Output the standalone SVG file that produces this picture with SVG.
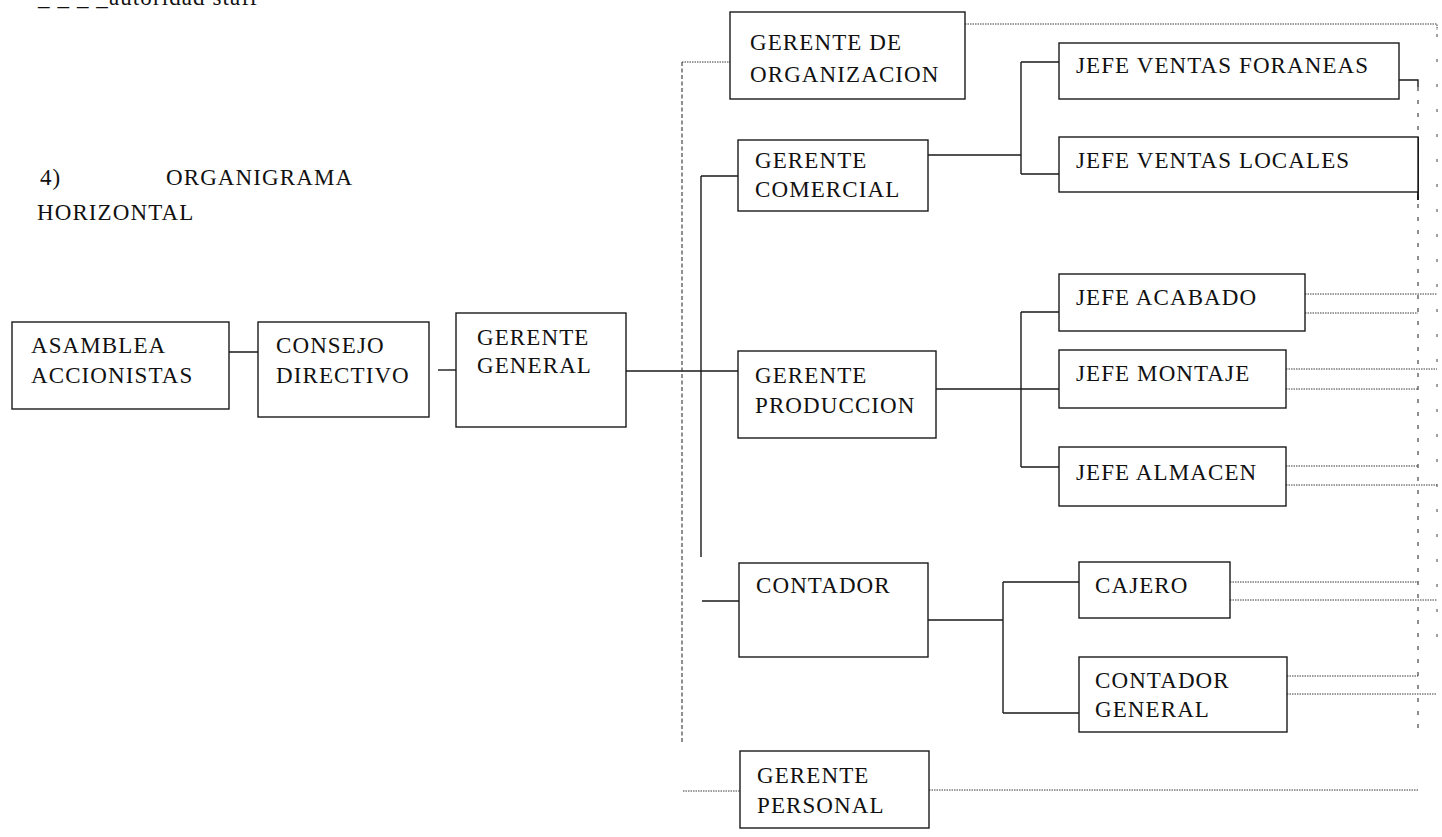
<svg xmlns="http://www.w3.org/2000/svg" width="1442" height="837" viewBox="0 0 1442 837">
  <style>
    text { font-family: "Liberation Serif", "Times New Roman", serif; font-size: 23px; letter-spacing: 1.1px; fill: #111111; }
    .box { fill: #ffffff; stroke: #1a1a1a; stroke-width: 1.4; }
    .line { fill: none; stroke: #1a1a1a; stroke-width: 1.4; }
    .staff { fill: none; stroke: #3a3a3a; stroke-width: 1; stroke-dasharray: 1.5 1; }
    .staff-v { fill: none; stroke: #333333; stroke-width: 1.1; stroke-dasharray: 4 2.5; }
    .staff-r { fill: none; stroke: #333333; stroke-width: 1.1; stroke-dasharray: 4 9; }
    .staff-far { fill: none; stroke: #444444; stroke-width: 1; stroke-dasharray: 3 22; }
  </style>

  <rect width="1442" height="837" fill="#ffffff"/>

  <!-- legend and title -->
  <g id="legend">
    <text x="38" y="5">_ _ _ _autoridad staff</text>
  </g>
  <g id="title">
    <text x="40" y="185">4)</text>
    <text x="166" y="185">ORGANIGRAMA</text>
    <text x="37" y="220">HORIZONTAL</text>
  </g>

  <!-- connectors -->
  <g id="connectors">
    <!-- line authority -->
    <path class="line" d="M229 352 H267"/>
    <path class="line" d="M438 370 H456"/>
    <path class="line" d="M626 371 H738"/>
    <path class="line" d="M701 176 V557 M701 176 H738"/>
    <path class="line" d="M702 601 H739"/>
    <path class="line" d="M928 155 H1021 M1021 62 V174 M1021 62 H1059 M1021 174 H1059"/>
    <path class="line" d="M928 389 H1059 M1021 312 V467 M1021 312 H1059 M1021 467 H1059"/>
    <path class="line" d="M928 620 H1003 M1003 582 V713 M1003 582 H1079 M1003 713 H1079"/>
    <path class="line" d="M1399 80 H1418 V87"/>
    <path class="line" d="M1418 137 V200" style="stroke-width:2"/>

    <!-- staff authority -->
    <path class="staff" d="M682 62 H730"/>
    <path class="staff-v" d="M682 62 V743"/>
    <path class="staff" d="M965 24 H1437 V30"/>
    <path class="staff" d="M1305 294 H1437 M1305 313 H1418"/>
    <path class="staff" d="M1286 369 H1437 M1286 389 H1418"/>
    <path class="staff" d="M1286 466 H1418 M1286 485 H1437"/>
    <path class="staff" d="M1230 582 H1418 M1230 600 H1437"/>
    <path class="staff" d="M1287 676 H1418 M1287 694 H1437"/>
    <path class="staff" d="M683 791 H740 M929 790 H1419"/>
    <path class="staff-r" d="M1418 87 V737"/>
    <path class="staff-far" d="M1437 34 V648"/>
  </g>

  <!-- nodes -->
  <g id="asamblea">
    <rect class="box" x="12" y="322" width="217" height="87"/>
    <text x="31" y="353">ASAMBLEA</text>
    <text x="31" y="383">ACCIONISTAS</text>
  </g>
  <g id="consejo">
    <rect class="box" x="258" y="322" width="171" height="95"/>
    <text x="276" y="353">CONSEJO</text>
    <text x="276" y="383">DIRECTIVO</text>
  </g>
  <g id="gerente-general">
    <rect class="box" x="456" y="313" width="170" height="114"/>
    <text x="477" y="345">GERENTE</text>
    <text x="477" y="373">GENERAL</text>
  </g>
  <g id="gerente-organizacion">
    <rect class="box" x="730" y="12" width="235" height="87"/>
    <text x="750" y="50">GERENTE DE</text>
    <text x="750" y="82">ORGANIZACION</text>
  </g>
  <g id="gerente-comercial">
    <rect class="box" x="738" y="140" width="190" height="71"/>
    <text x="755" y="168">GERENTE</text>
    <text x="755" y="197">COMERCIAL</text>
  </g>
  <g id="gerente-produccion">
    <rect class="box" x="738" y="351" width="198" height="87"/>
    <text x="755" y="383">GERENTE</text>
    <text x="755" y="413">PRODUCCION</text>
  </g>
  <g id="contador">
    <rect class="box" x="739" y="563" width="189" height="94"/>
    <text x="756" y="593">CONTADOR</text>
  </g>
  <g id="gerente-personal">
    <rect class="box" x="740" y="751" width="189" height="77"/>
    <text x="757" y="783">GERENTE</text>
    <text x="757" y="813">PERSONAL</text>
  </g>
  <g id="jefe-ventas-foraneas">
    <rect class="box" x="1059" y="43" width="340" height="56"/>
    <text x="1076" y="73">JEFE VENTAS FORANEAS</text>
  </g>
  <g id="jefe-ventas-locales">
    <rect class="box" x="1059" y="137" width="359" height="55"/>
    <text x="1076" y="168">JEFE VENTAS LOCALES</text>
  </g>
  <g id="jefe-acabado">
    <rect class="box" x="1059" y="274" width="246" height="57"/>
    <text x="1076" y="305">JEFE ACABADO</text>
  </g>
  <g id="jefe-montaje">
    <rect class="box" x="1059" y="350" width="227" height="58"/>
    <text x="1076" y="381">JEFE MONTAJE</text>
  </g>
  <g id="jefe-almacen">
    <rect class="box" x="1059" y="447" width="227" height="59"/>
    <text x="1076" y="480">JEFE ALMACEN</text>
  </g>
  <g id="cajero">
    <rect class="box" x="1079" y="562" width="151" height="56"/>
    <text x="1095" y="593">CAJERO</text>
  </g>
  <g id="contador-general">
    <rect class="box" x="1079" y="657" width="208" height="75"/>
    <text x="1095" y="688">CONTADOR</text>
    <text x="1095" y="717">GENERAL</text>
  </g>
</svg>
